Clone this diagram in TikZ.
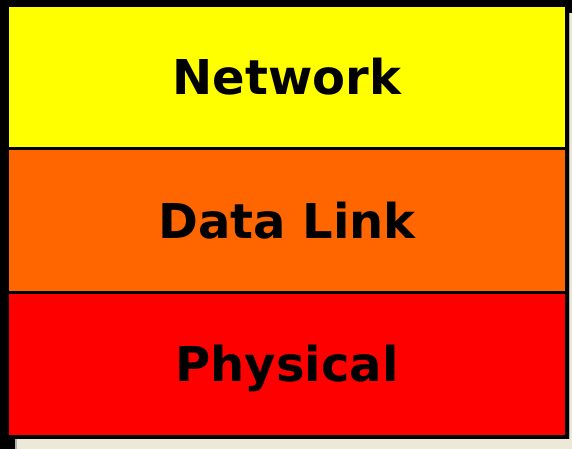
\documentclass[tikz,border=0pt]{standalone}
\usepackage{fontspec}
\setmainfont{DejaVu Sans}
\usepackage{tikz}
\usetikzlibrary{%
  positioning,%
  calc%
}
\definecolor{lyellow}{HTML}{FFFF00}
\definecolor{lorange}{HTML}{FF6600}
\definecolor{lred}{HTML}{FF0000}
\definecolor{winbg}{HTML}{ECE9D8}
\tikzset{>=latex,%
  layer/.style={inner sep=0pt,outer sep=0pt,minimum width=556pt,
    minimum height=140.5pt,text height=35pt,text depth=0pt,
    font=\fontsize{48}{50}\selectfont\bfseries}}

\begin{document}
\begin{tikzpicture}[x=1pt,y=-1pt]
    \useasboundingbox (0,0) rectangle (572,449);
    \fill[winbg] (0,0) rectangle (572,449);
    \fill[black] (0,0) rectangle (569,439);
    \fill[black] (569,0) rectangle (572,13);
    \fill[black] (0,439) rectangle (15,449);
    \fill[gray!60] (15,439) rectangle (17,449);
    \fill[gray!60] (569,13) rectangle (570,439);
    \node[layer,fill=lyellow] (net) at (287,77.25) {Network};
    \node[layer,fill=lorange,below=3pt of net] (dlink) {Data Link};
    \node[layer,fill=lred,below=3pt of dlink] (phys) {Physical};
  \end{tikzpicture}
\end{document}
